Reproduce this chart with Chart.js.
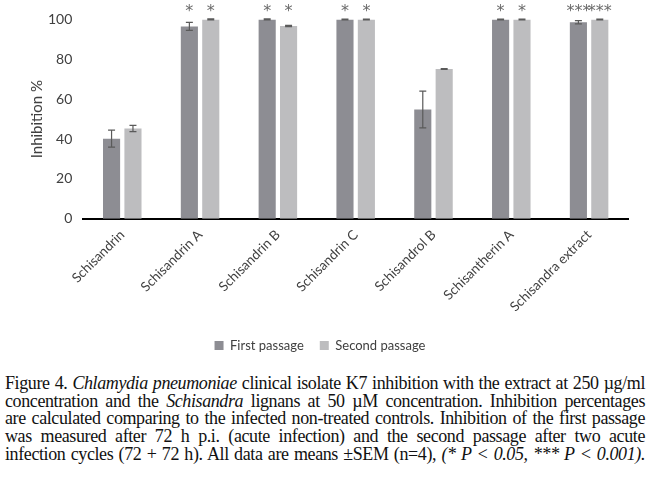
<!DOCTYPE html>
<html>
<head>
<meta charset="utf-8">
<script src="https://cdn.jsdelivr.net/npm/chart.js@4"></script>
<style>
  body { margin: 0; background: #fff; width: 650px; height: 478px; overflow: hidden; }
  #wrap { position: relative; width: 650px; height: 366px; }
  #caption {
    font-family: "Liberation Serif", "DejaVu Serif", serif;
    font-size: 18px;
    line-height: 17.7px;
    color: #111;
    margin: 9px 5px 0 5px;
    letter-spacing: -0.4px;
    word-spacing: -2px;
  }
  #caption div { text-align: justify; text-align-last: justify; white-space: nowrap; }
</style>
</head>
<body>
<div id="wrap"><canvas id="chart1"></canvas></div>
<div id="caption">
<div>Figure 4. <i>Chlamydia pneumoniae</i> clinical isolate K7 inhibition with the extract at 250 µg/ml</div>
<div>concentration and the <i>Schisandra</i> lignans at 50 µM concentration. Inhibition percentages</div>
<div>are calculated comparing to the infected non-treated controls. Inhibition of the first passage</div>
<div>was measured after 72 h p.i. (acute infection) and the second passage after two acute</div>
<div>infection cycles (72 + 72 h). All data are means ±SEM (n=4), <i>(* P &lt; 0.05, *** P &lt; 0.001).</i></div>
</div>
<script>
const categories = ['Schisandrin', 'Schisandrin A', 'Schisandrin B', 'Schisandrin C', 'Schisandrol B', 'Schisantherin A', 'Schisandra extract'];
const firstPassage = [40.2, 96.5, 100, 100, 54.8, 100, 98.6];
const secondPassage = [45.3, 100, 96.7, 100, 75.1, 100, 100];
const firstErr = [4.3, 2.0, 0.3, 0.2, 9.2, 0.2, 0.8];
const secondErr = [1.6, 0.3, 0.3, 0.2, 0.2, 0.2, 0.2];
const firstStars = ['', '*', '*', '*', '', '*', '***'];
const secondStars = ['', '*', '*', '*', '', '*', '***'];
const yTicks = [0, 20, 40, 60, 80, 100];

document.addEventListener('DOMContentLoaded', () => {
    const ctx1 = document.getElementById('chart1').getContext('2d');
    const errs = [firstErr, secondErr];
    const stars = [firstStars, secondStars];

    // error bars + significance stars
    const extras = {
        id: 'extras',
        afterDatasetsDraw(chart) {
            const ctx = chart.ctx;
            const y = chart.scales.y;
            ctx.save();
            chart.data.datasets.forEach((ds, i) => {
                chart.getDatasetMeta(i).data.forEach((bar, index) => {
                    const v = ds.data[index];
                    const e = errs[i][index];
                    const top = y.getPixelForValue(v + e);
                    const bot = y.getPixelForValue(v - e);
                    ctx.strokeStyle = '#5a5a5a';
                    ctx.lineWidth = 1.2;
                    ctx.beginPath();
                    ctx.moveTo(bar.x, top); ctx.lineTo(bar.x, bot);
                    ctx.moveTo(bar.x - 3.5, top); ctx.lineTo(bar.x + 3.5, top);
                    ctx.moveTo(bar.x - 3.5, bot); ctx.lineTo(bar.x + 3.5, bot);
                    ctx.stroke();

                    ctx.fillStyle = '#6a6a6a';
                    ctx.font = '16px "DejaVu Sans"';
                    ctx.textAlign = 'center';
                    ctx.textBaseline = 'middle';
                    ctx.fillText(stars[i][index], bar.x, y.getPixelForValue(100) - 8);
                });
            });
            ctx.restore();
        }
    };

    new Chart(ctx1, {
        type: 'bar',
        data: {
            labels: categories,
            datasets: [
                {
                    label: 'First passage',
                    data: firstPassage,
                    backgroundColor: '#8d8d93',
                    categoryPercentage: 0.55,
                    barPercentage: 0.8
                },
                {
                    label: 'Second passage',
                    data: secondPassage,
                    backgroundColor: '#bdbdbf',
                    categoryPercentage: 0.55,
                    barPercentage: 0.8
                }
            ]
        },
        options: {
            responsive: true,
            maintainAspectRatio: false,
            animation: false,
            layout: {
                padding: { top: 14, right: 22, left: 12, bottom: 4 }
            },
            scales: {
                x: {
                    grid: { display: false, drawTicks: false },
                    border: { color: '#000', width: 2 },
                    ticks: {
                        font: { family: 'Lato', size: 13.5 },
                        color: '#404040',
                        minRotation: 45,
                        maxRotation: 45,
                        padding: 8
                    }
                },
                y: {
                    min: 0,
                    max: 100,
                    afterBuildTicks: (axis) => { axis.ticks = yTicks.map(v => ({ value: v })); },
                    grid: { display: false, drawTicks: false },
                    border: { display: false },
                    ticks: {
                        font: { family: 'Lato', size: 14 },
                        color: '#404040',
                        padding: 11
                    },
                    title: {
                        display: true,
                        text: 'Inhibition %',
                        font: { family: 'Lato', size: 15 },
                        color: '#404040',
                        padding: { top: 16, bottom: -9 }
                    }
                }
            },
            plugins: {
                legend: {
                    position: 'bottom',
                    labels: {
                        boxWidth: 9,
                        boxHeight: 9,
                        font: { family: 'Lato', size: 13 },
                        color: '#404040',
                        padding: 16
                    }
                },
                tooltip: { enabled: false }
            }
        },
        plugins: [extras]
    });
});
</script>
</body>
</html>
